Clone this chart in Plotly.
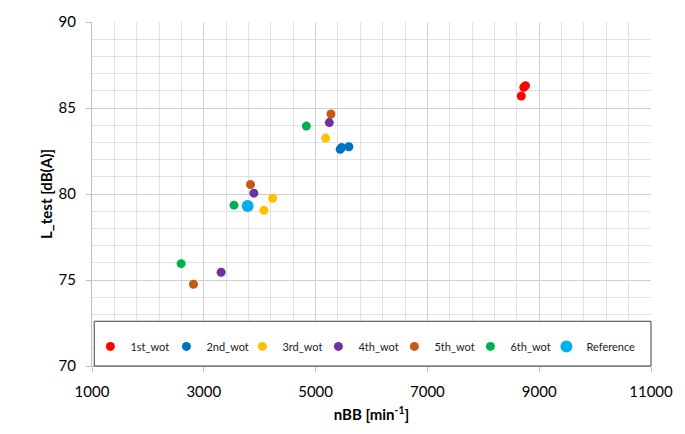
import plotly.graph_objects as go

# Data
series_names = ["1st_wot", "2nd_wot", "3rd_wot", "4th_wot", "5th_wot", "6th_wot", "Reference"]
series_colors = ["#FF0000", "#0070C0", "#FFC000", "#7030A0", "#C55A11", "#00B050", "#00B0F0"]

nbb_1st = [8680, 8725, 8755]
l_1st = [85.7, 86.2, 86.3]

nbb_2nd = [5440, 5465, 5595]
l_2nd = [82.6, 82.7, 82.75]

nbb_3rd = [5180, 4230, 4075]
l_3rd = [83.25, 79.75, 79.05]

nbb_4th = [5245, 3895, 3310]
l_4th = [84.15, 80.05, 75.45]

nbb_5th = [5275, 3835, 2815]
l_5th = [84.65, 80.55, 74.75]

nbb_6th = [4835, 3540, 2595]
l_6th = [83.95, 79.35, 75.95]

nbb_ref = [3785]
l_ref = [79.3]

x_data = [nbb_1st, nbb_2nd, nbb_3rd, nbb_4th, nbb_5th, nbb_6th, nbb_ref]
y_data = [l_1st, l_2nd, l_3rd, l_4th, l_5th, l_6th, l_ref]
marker_sizes = [9, 9, 9, 9, 9, 9, 12]

x_ticks = [1000, 3000, 5000, 7000, 9000, 11000]
y_ticks = [70, 75, 80, 85, 90]

FONT = "Lato, 'Open Sans', sans-serif"

fig = go.Figure()
for name, col, xs, ys, ms in zip(series_names, series_colors, x_data, y_data, marker_sizes):
    fig.add_trace(go.Scatter(
        x=xs, y=ys, mode="markers", name=name,
        marker=dict(color=col, size=ms, line=dict(width=0)),
    ))

grid_major = "#d0d0d0"
grid_minor = "#e2e2e2"

fig.update_layout(
    width=685, height=434, autosize=False,
    margin=dict(l=92, r=33, t=16, b=68),
    paper_bgcolor="white", plot_bgcolor="white",
    font=dict(family=FONT, color="#000000", size=15),
    showlegend=True,
    legend=dict(
        orientation="h", x=0.024, y=0.057, xanchor="left", yanchor="middle",
        bgcolor="rgba(0,0,0,0)", borderwidth=0,
        font=dict(family=FONT, size=11, color="#222"),
        indentation=-15,
        entrywidth=46, entrywidthmode="pixels",
        itemsizing="trace",
    ),
    xaxis=dict(
        range=[1000, 11000], tickvals=x_ticks, ticktext=[str(v) for v in x_ticks],
        showgrid=True, gridcolor=grid_major, gridwidth=1,
        minor=dict(dtick=400, tick0=1000, showgrid=True, gridcolor=grid_minor, gridwidth=1, ticks=""),
        showline=True, linecolor="#bfbfbf", linewidth=1,
        ticks="outside", ticklen=5, tickcolor="#bfbfbf",
        ticklabelstandoff=7,
        zeroline=False,
        title=dict(text="<b>nBB [min<sup>-1</sup>]</b>", font=dict(family=FONT, size=15), standoff=10),
        tickfont=dict(family=FONT, size=15),
    ),
    yaxis=dict(
        range=[70, 90], tickvals=y_ticks,
        showgrid=True, gridcolor=grid_major, gridwidth=1,
        minor=dict(dtick=1, showgrid=True, gridcolor=grid_minor, gridwidth=1, ticks=""),
        showline=True, linecolor="#bfbfbf", linewidth=1,
        ticks="outside", ticklen=5, tickcolor="#bfbfbf",
        ticklabelstandoff=7,
        zeroline=False,
        title=dict(text="<b>L_test [dB(A)]</b>", font=dict(family=FONT, size=15), standoff=2),
        tickfont=dict(family=FONT, size=15),
    ),
    shapes=[dict(
        type="rect", xref="paper", yref="paper",
        x0=0.004, x1=1.0, y0=0.0, y1=0.13,
        line=dict(color="#404040", width=1), fillcolor="white", layer="above",
    )],
)

fig.write_html("out.html", config={"displayModeBar": False},
               post_script="document.body.style.margin='0';")
